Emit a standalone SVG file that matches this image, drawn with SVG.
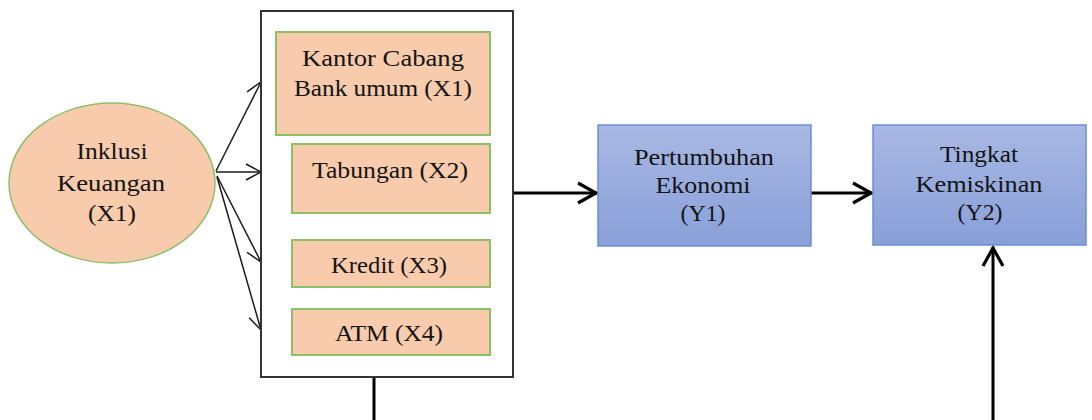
<svg xmlns="http://www.w3.org/2000/svg" width="1092" height="420" viewBox="0 0 1092 420">
  <style>
    .lbl { font-family: "Liberation Serif", "Times New Roman", serif; font-size: 24px; fill: #141414; text-anchor: middle; }
    .peach { fill: #f7cbac; stroke: #8cc066; stroke-width: 2; }
    .blue { fill: url(#blueFill); stroke: #6a8ed4; stroke-width: 1.5; }
    .thin { fill: none; stroke: #1a1a1a; stroke-width: 1.5; }
    .bold { fill: none; stroke: #000; stroke-width: 3; }
  </style>
  <defs>
    <linearGradient id="blueFill" x1="0" y1="0" x2="0" y2="1">
      <stop offset="0" stop-color="#a9b8e3"/>
      <stop offset="1" stop-color="#889fd8"/>
    </linearGradient>
    <marker id="headThin" viewBox="0 0 18 18" refX="16" refY="9" markerWidth="18" markerHeight="18" markerUnits="userSpaceOnUse" orient="auto">
      <path d="M1,1 L16,9 L1,17" fill="none" stroke="#1a1a1a" stroke-width="1.5"/>
    </marker>
    <marker id="headBold" viewBox="0 0 24 24" refX="21" refY="12" markerWidth="24" markerHeight="24" markerUnits="userSpaceOnUse" orient="auto">
      <path d="M2,2 L20,12 L2,22" fill="none" stroke="#000" stroke-width="3.2"/>
    </marker>
  </defs>

  <!-- connectors -->
  <g id="connectors">
    <line class="thin" x1="216" y1="171" x2="261" y2="82" marker-end="url(#headThin)"/>
    <line class="thin" x1="216" y1="172" x2="261" y2="172" marker-end="url(#headThin)"/>
    <line class="thin" x1="217" y1="176" x2="261" y2="262" marker-end="url(#headThin)"/>
    <line class="thin" x1="217" y1="177" x2="261" y2="330" marker-end="url(#headThin)"/>
    <line class="bold" x1="513" y1="193" x2="597" y2="193" marker-end="url(#headBold)"/>
    <line class="bold" x1="811" y1="193" x2="872" y2="193" marker-end="url(#headBold)"/>
    <line class="bold" x1="993" y1="420" x2="993" y2="247" marker-end="url(#headBold)"/>
    <line class="bold" x1="374" y1="377" x2="374" y2="420"/>
  </g>

  <!-- Inklusi Keuangan -->
  <g id="inklusi">
    <ellipse cx="112" cy="183" rx="103" ry="80" fill="#f7cbac" stroke="#8cc066" stroke-width="1.5"/>
    <text class="lbl" x="112" y="159" textLength="71" lengthAdjust="spacingAndGlyphs">Inklusi</text>
    <text class="lbl" x="111" y="191" textLength="108" lengthAdjust="spacingAndGlyphs">Keuangan</text>
    <text class="lbl" x="112" y="221" textLength="48" lengthAdjust="spacingAndGlyphs">(X1)</text>
  </g>

  <!-- indicator container -->
  <g id="indikator">
    <rect x="261" y="11" width="252" height="366" fill="#fff" stroke="#333" stroke-width="2"/>
  </g>

  <g id="kantor">
    <rect class="peach" x="276" y="32" width="214" height="103"/>
    <text class="lbl" x="383" y="66" textLength="162" lengthAdjust="spacingAndGlyphs">Kantor Cabang</text>
    <text class="lbl" x="383" y="96" textLength="178" lengthAdjust="spacingAndGlyphs">Bank umum (X1)</text>
  </g>

  <g id="tabungan">
    <rect class="peach" x="292" y="144" width="198" height="69"/>
    <text class="lbl" x="390" y="178" textLength="156" lengthAdjust="spacingAndGlyphs">Tabungan (X2)</text>
  </g>

  <g id="kredit">
    <rect class="peach" x="292" y="240" width="198" height="47"/>
    <text class="lbl" x="389" y="273" textLength="116" lengthAdjust="spacingAndGlyphs">Kredit (X3)</text>
  </g>

  <g id="atm">
    <rect class="peach" x="292" y="309" width="198" height="46"/>
    <text class="lbl" x="389" y="341" textLength="108" lengthAdjust="spacingAndGlyphs">ATM (X4)</text>
  </g>

  <!-- Pertumbuhan Ekonomi -->
  <g id="pertumbuhan">
    <rect class="blue" x="598" y="125" width="213" height="121"/>
    <text class="lbl" x="704" y="165" textLength="140" lengthAdjust="spacingAndGlyphs">Pertumbuhan</text>
    <text class="lbl" x="703" y="193" textLength="95" lengthAdjust="spacingAndGlyphs">Ekonomi</text>
    <text class="lbl" x="703" y="221" textLength="45" lengthAdjust="spacingAndGlyphs">(Y1)</text>
  </g>

  <!-- Tingkat Kemiskinan -->
  <g id="kemiskinan">
    <rect class="blue" x="873" y="125" width="213" height="120"/>
    <text class="lbl" x="979" y="162" textLength="78" lengthAdjust="spacingAndGlyphs">Tingkat</text>
    <text class="lbl" x="979" y="192" textLength="127" lengthAdjust="spacingAndGlyphs">Kemiskinan</text>
    <text class="lbl" x="980" y="220" textLength="45" lengthAdjust="spacingAndGlyphs">(Y2)</text>
  </g>
</svg>
